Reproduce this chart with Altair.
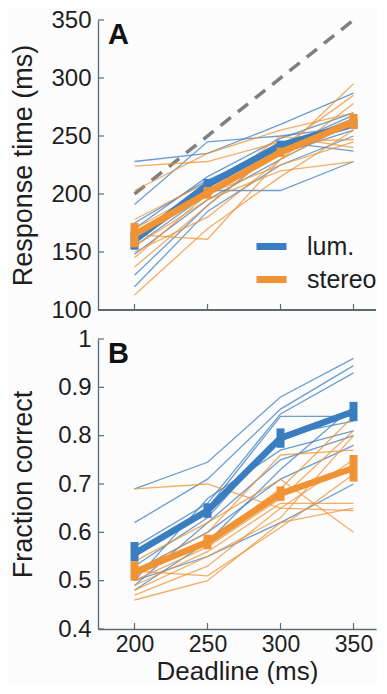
import altair as alt
import pandas as pd

# ---------------- data ----------------
deadlines = [200, 250, 300, 350]
cond_labels = ["lum.", "stereo"]
colors = ["#3b7dc1", "#ef9334"]

# Panel A: response time (ms), individual subjects
rt_lum = [
    [228, 235, 260, 287],
    [191, 245, 250, 258],
    [175, 212, 240, 265],
    [165, 203, 203, 228],
    [160, 210, 245, 237],
    [155, 200, 235, 255],
    [148, 195, 230, 262],
    [130, 190, 240, 268],
    [120, 185, 225, 250],
    [170, 215, 248, 270],
]
rt_stereo = [
    [224, 228, 245, 247],
    [203, 235, 255, 270],
    [178, 210, 235, 295],
    [170, 205, 240, 285],
    [165, 161, 230, 278],
    [160, 200, 225, 245],
    [155, 195, 220, 228],
    [150, 180, 230, 262],
    [137, 190, 240, 265],
    [113, 170, 215, 255],
    [145, 200, 250, 240],
]
rt_mean_lum = [160, 208, 242, 260]
rt_lo_lum = [152, 204, 238, 256]
rt_hi_lum = [168, 213, 246, 265]
rt_mean_stereo = [165, 201, 236, 262]
rt_lo_stereo = [154, 196, 232, 256]
rt_hi_stereo = [175, 206, 240, 269]
identity_x = [200, 350]
identity_y = [200, 350]

# Panel B: fraction correct, individual subjects
pc_lum = [
    [0.69, 0.745, 0.88, 0.96],
    [0.62, 0.71, 0.855, 0.945],
    [0.57, 0.66, 0.845, 0.93],
    [0.55, 0.65, 0.84, 0.84],
    [0.53, 0.63, 0.80, 0.83],
    [0.50, 0.67, 0.77, 0.81],
    [0.49, 0.62, 0.75, 0.80],
    [0.48, 0.58, 0.73, 0.86],
    [0.52, 0.60, 0.71, 0.78],
    [0.50, 0.55, 0.62, 0.70],
]
pc_stereo = [
    [0.69, 0.70, 0.65, 0.645],
    [0.54, 0.62, 0.71, 0.60],
    [0.52, 0.60, 0.76, 0.77],
    [0.51, 0.58, 0.69, 0.84],
    [0.50, 0.57, 0.67, 0.81],
    [0.49, 0.56, 0.66, 0.66],
    [0.48, 0.55, 0.63, 0.80],
    [0.47, 0.53, 0.65, 0.75],
    [0.46, 0.50, 0.62, 0.65],
    [0.52, 0.51, 0.61, 0.72],
]
pc_mean_lum = [0.556, 0.645, 0.795, 0.85]
pc_lo_lum = [0.54, 0.63, 0.775, 0.83]
pc_hi_lum = [0.58, 0.66, 0.815, 0.87]
pc_mean_stereo = [0.518, 0.58, 0.68, 0.733]
pc_lo_stereo = [0.50, 0.565, 0.665, 0.705]
pc_hi_stereo = [0.54, 0.595, 0.695, 0.76]

rt_ticks = [100, 150, 200, 250, 300, 350]
pc_ticks = [0.4, 0.5, 0.6, 0.7, 0.8, 0.9, 1.0]

# ---------------- style ----------------
FONT = "Liberation Sans"
AXIS_COL = "#5a6b75"
TXT = "#1e1e1e"
W, H = 278, 290
X_DOMAIN = [175, 365.4]


def indiv_df(lum, stereo):
    rows = []
    for cond, arr in (("lum.", lum), ("stereo", stereo)):
        for i, subj in enumerate(arr):
            for d, v in zip(deadlines, subj):
                rows.append({"cond": cond, "subj": f"{cond}{i}", "d": d, "v": v})
    return pd.DataFrame(rows)


def mean_df(m, lo, hi, cond):
    return pd.DataFrame({"cond": cond, "d": deadlines, "m": m, "lo": lo, "hi": hi})


def panel(ind, means, ydomain, yticks, ytitle, yfmt, letter, letter_y, show_x, legend, extra=None):
    xscale = alt.Scale(domain=X_DOMAIN, nice=False, zero=False)
    yscale = alt.Scale(domain=ydomain, nice=False, zero=False)
    if show_x:
        xaxis = alt.Axis(values=deadlines, title="Deadline (ms)", ticks=False, grid=False,
                         labelPadding=4, titlePadding=2, format="d",
                         labelFontSize=23, titleFontSize=26)
    else:
        xaxis = None
    yaxis = alt.Axis(values=yticks, title=ytitle, ticks=False, grid=False, format=yfmt,
                     labelPadding=7, titlePadding=11, minExtent=50, maxExtent=50)

    X = lambda f: alt.X(f, scale=xscale, axis=xaxis)
    Y = lambda f: alt.Y(f, scale=yscale, axis=yaxis)
    if legend:
        leg = alt.Legend(title=None, orient="none", legendX=155, legendY=208,
                         symbolType="stroke", symbolSize=900, symbolStrokeWidth=7,
                         symbolOpacity=1, labelFontSize=25, labelFont=FONT, labelColor=TXT,
                         labelOffset=17, rowPadding=0, padding=0)
    else:
        leg = None
    C = alt.Color("cond:N", scale=alt.Scale(domain=cond_labels, range=colors), legend=leg)

    layers = []
    if extra is not None:
        layers.append(alt.Chart(extra).mark_line(color="#7f7f7f", strokeWidth=3.5,
                                                 strokeDash=[13, 9]).encode(x=X("x:Q"), y=Y("y:Q")))
    layers.append(
        alt.Chart(ind).mark_line(strokeWidth=1.3, opacity=0.75).encode(
            x=X("d:Q"), y=Y("v:Q"), color=C, detail="subj:N", order="d:Q")
    )
    for md in means:
        layers.append(alt.Chart(md).mark_line(strokeWidth=6.5).encode(x=X("d:Q"), y=Y("m:Q"), color=C))
        layers.append(alt.Chart(md).mark_rule(strokeWidth=8).encode(
            x=X("d:Q"), y=Y("lo:Q"), y2="hi:Q", color=C))

    xt = pd.DataFrame({"d": deadlines})
    yt = pd.DataFrame({"v": yticks})
    layers.append(alt.Chart(xt).mark_rule(color=AXIS_COL, strokeWidth=1.2).encode(
        x=X("d:Q"), y=alt.value(H), y2=alt.value(H - 6)))
    layers.append(alt.Chart(yt).mark_rule(color=AXIS_COL, strokeWidth=1.2).encode(
        y=Y("v:Q"), x=alt.value(0), x2=alt.value(6)))
    if not show_x:
        # bottom axis line without labels
        layers.append(alt.Chart(xt).mark_rule(color=AXIS_COL, strokeWidth=1.3).encode(
            x=alt.value(0), x2=alt.value(W), y=alt.value(H)))
    layers.append(alt.Chart(pd.DataFrame({"t": [letter]})).mark_text(
        font=FONT, fontSize=29, fontWeight="bold", color="#111", align="left",
        baseline="alphabetic").encode(x=alt.value(10), y=alt.value(letter_y), text="t:N"))

    return alt.layer(*layers).properties(width=W, height=H)


panelA = panel(
    indiv_df(rt_lum, rt_stereo),
    [mean_df(rt_mean_lum, rt_lo_lum, rt_hi_lum, "lum."),
     mean_df(rt_mean_stereo, rt_lo_stereo, rt_hi_stereo, "stereo")],
    [100, 350], rt_ticks, "Response time (ms)", "d", "A", 24, False, True,
    extra=pd.DataFrame({"x": identity_x, "y": identity_y}),
)
panelB = panel(
    indiv_df(pc_lum, pc_stereo),
    [mean_df(pc_mean_lum, pc_lo_lum, pc_hi_lum, "lum."),
     mean_df(pc_mean_stereo, pc_lo_stereo, pc_hi_stereo, "stereo")],
    [0.4, 1.0], pc_ticks, "Fraction correct", ".1~f", "B", 24, True, False,
)

chart = alt.vconcat(panelA, panelB, spacing=5).resolve_scale(
    color="independent").resolve_legend(color="independent").properties(
    padding=0,
    background="#fcfcfd",
).configure_view(stroke=None).configure_axis(
    labelFont=FONT, titleFont=FONT, labelFontSize=24, titleFontSize=27,
    titleFontWeight="normal", labelColor=TXT, titleColor=TXT,
    domainColor=AXIS_COL, domainWidth=1.3,
)

chart.save("out.html", embed_options={"renderer": "svg", "actions": False})
